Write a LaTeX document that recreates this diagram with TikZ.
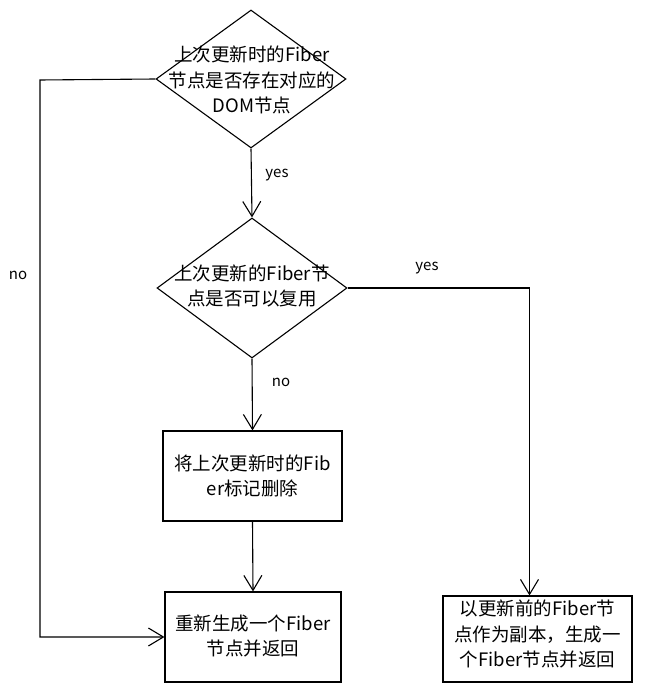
\documentclass[tikz,border=0pt]{standalone}
\usepackage{fontspec}
\setmainfont{Noto Sans CJK SC}
\usetikzlibrary{arrows.meta,shapes.geometric,calc}
\begin{document}
\begin{tikzpicture}[x=1pt,y=-1pt,
  line width=1.1pt,
  decision/.style={draw,diamond,inner sep=0pt,minimum width=190pt,minimum height=138pt},
  process/.style={draw,rectangle,inner sep=0pt},
  txt/.style={align=center,font=\fontsize{18.5}{25.5}\selectfont,inner sep=0pt},
  lbl/.style={font=\fontsize{15}{18}\selectfont,inner sep=0pt},
  arr/.style={-{Straight Barb[length=15pt,width=18pt,line width=1.1pt]}}]
\useasboundingbox (0,0) rectangle (644,692);

% decisions
\node[decision] (d1) at (251,79) {};
\node[txt] (d1t) at (252,80) {上次更新时的Fiber\\节点是否存在对应的\\DOM节点};
\node[decision,minimum height=140pt] (d2) at (252,288) {};
\node[txt] (d2t) at (252,286) {上次更新的Fiber节\\点是否可以复用};

% process boxes
\node[process,minimum width=179pt,minimum height=90pt] (b1) at (252.5,476) {};
\node[txt] (b1t) at (252.5,476) {将上次更新时的Fib\\er标记删除};
\node[process,minimum width=176pt,minimum height=90pt] (b2) at (253,637) {};
\node[txt] (b2t) at (253,636) {重新生成一个Fiber\\节点并返回};
\node[process,minimum width=189pt,minimum height=86pt] (b3) at (537.5,639) {};
\node[txt] (b3t) at (537.5,634) {以更新前的Fiber节\\点作为副本，生成一\\个Fiber节点并返回};

% connectors
\draw[arr] (d1.south) -- (d2.north);
\node[lbl] (yes1) at (277,175) {yes};
\draw[arr] (d2.south) -- (b1.north);
\node[lbl] (no2) at (281,382) {no};
\draw[arr] (b1.south) -- (b2.north);

\coordinate (noturn) at (40,80);
\draw[arr] (d1.west) -- (noturn) |- (b2.west);
\node[lbl] (no1) at (18,275) {no};

\coordinate (yesdrop) at ($(b3.north)+(-8,0)$);
\draw[arr] (d2.east) -| (yesdrop);
\node[lbl] (yes2) at (427,268) {yes};
\end{tikzpicture}
\end{document}
